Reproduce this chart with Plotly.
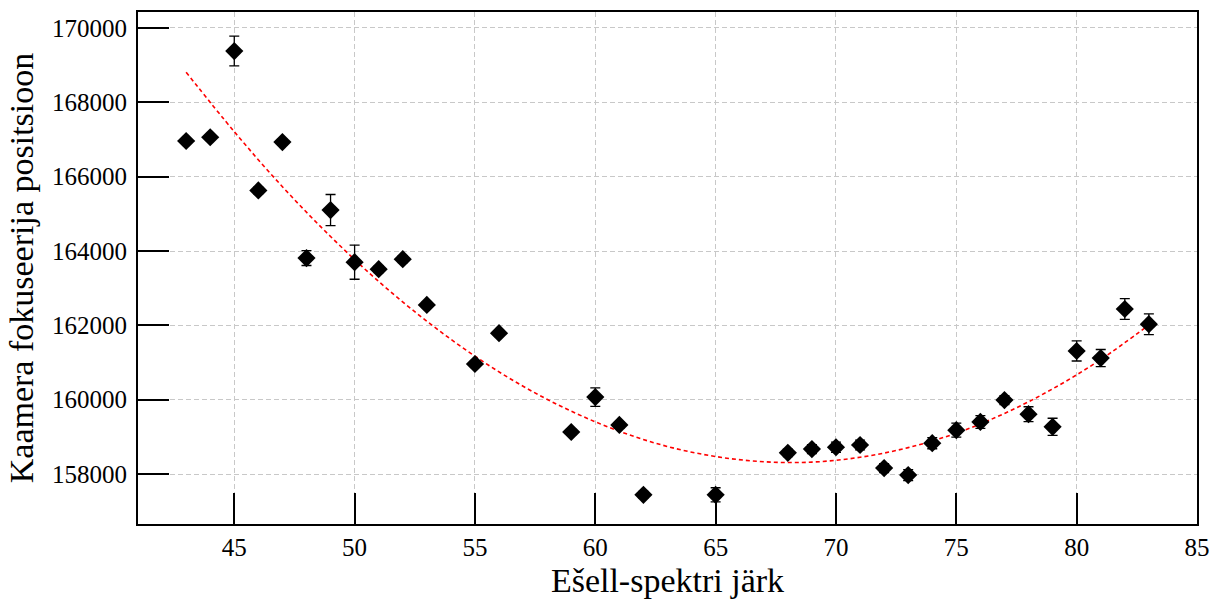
import plotly.graph_objects as go

orders = [43, 44, 45, 46, 47, 48, 49, 50, 51, 52, 53, 55, 56, 59, 60, 61, 62, 65,
          68, 69, 70, 71, 72, 73, 74, 75, 76, 77, 78, 79, 80, 81, 82, 83]
positions = [166960, 167060, 169380, 165630, 166930, 163810, 165100, 163700, 163510, 163780,
             162550, 160960, 161790, 159130, 160070, 159320, 157440, 157440,
             158570, 158670, 158720, 158780, 158160, 157970, 158830, 159180, 159400, 159990,
             159610, 159270, 161310, 161120, 162440, 162030]
errors = [60, 70, 400, 90, 80, 200, 420, 460, 90, 90,
          80, 90, 80, 90, 250, 90, 90, 190,
          100, 120, 140, 130, 120, 150, 150, 190, 170, 120,
          200, 230, 270, 230, 280, 280]

# Fitted curve samples
fit_x = [43, 45, 47, 49, 51, 53, 55, 57, 59, 61, 63, 65, 67, 69, 71, 73, 75, 77, 79, 81, 83]
fit_y = [168810, 167210, 165730, 164390, 163180, 162110, 161170, 160360, 159690, 159150,
         158740, 158470, 158330, 158320, 158450, 158710, 159100, 159630, 160290, 161080, 162010]

x_ticks = [45, 50, 55, 60, 65, 70, 75, 80, 85]
y_ticks = [158000, 160000, 162000, 164000, 166000, 168000, 170000]

FONT = "Liberation Serif, DejaVu Serif, serif"

fig = go.Figure()
fig.add_trace(go.Scatter(
    x=fit_x, y=fit_y, mode="lines", line=dict(color="red", width=1.6, dash="4px,3px", shape="spline"),
    showlegend=False, hoverinfo="skip"))
fig.add_trace(go.Scatter(
    x=orders, y=positions, mode="markers",
    marker=dict(symbol="diamond", size=14, color="black"),
    error_y=dict(type="data", array=errors, visible=True, color="black", thickness=1.3, width=5),
    showlegend=False))

axis_common = dict(
    showline=True, linecolor="black", linewidth=2, mirror=True,
    ticks="inside", ticklen=31, tickwidth=2, tickcolor="black",
    showgrid=True, gridcolor="#c8c8c8", griddash="5px,3px", gridwidth=1,
    zeroline=False, automargin=False,
    tickfont=dict(family=FONT, size=25, color="black"),
)

fig.update_xaxes(range=[41, 85], tickvals=x_ticks, ticktext=[str(v) for v in x_ticks],
                 title=dict(text="Ešell-spektri järk", font=dict(family=FONT, size=34, color="black"), standoff=8),
                 ticklabelstandoff=0, **axis_common)
fig.update_yaxes(range=[156655, 170430], tickvals=y_ticks, ticktext=[str(v) for v in y_ticks],
                 title=dict(text="Kaamera fokuseerija positsioon", font=dict(family=FONT, size=34, color="black"), standoff=8),
                 ticklabelstandoff=4, **axis_common)

fig.update_layout(
    width=1218, height=599,
    margin=dict(l=138, r=21, t=12, b=75),
    plot_bgcolor="white", paper_bgcolor="white",
    font=dict(family=FONT, color="black"),
)

fig.write_html("out.html")
